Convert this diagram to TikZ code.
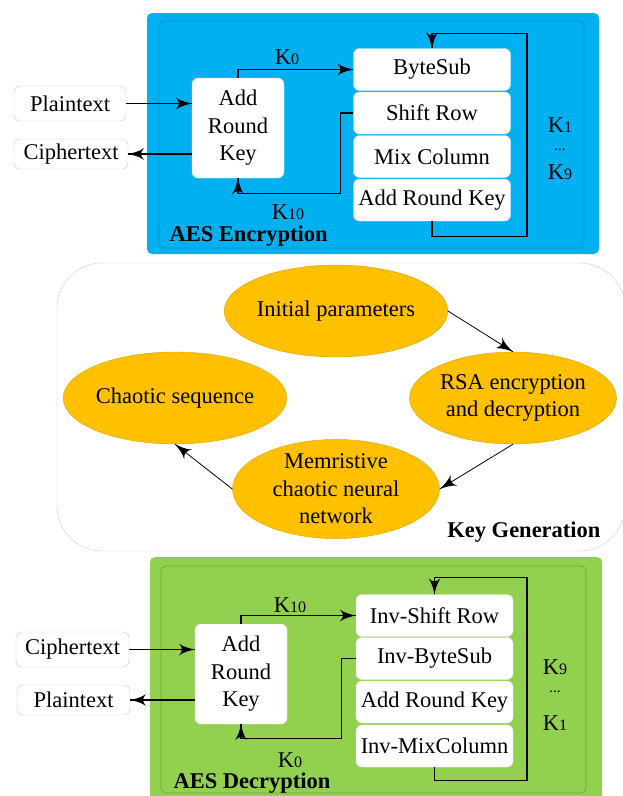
\documentclass[tikz,border=0pt]{standalone}
\usepackage{fontspec}
\setmainfont{Liberation Serif}
\usepackage{tikz}
\usetikzlibrary{arrows}
\usetikzlibrary{decorations.markings}
\usetikzlibrary{shapes.geometric}
\tikzset{conn/.style = {line width = 1.1pt, decoration={markings,
                                  mark=at position 1 with {\arrow[scale=2.6]{latex'}}},
                      postaction={decorate}}}
\tikzset{thinconn/.style = {line width = 0.8pt, decoration={markings,
                                  mark=at position 1 with {\arrow[scale=3.2]{latex'}}},
                      postaction={decorate}}}
\tikzset{txtbox/.style = {draw = boxgray, fill = white, rounded corners = 6, inner sep = 0}}
\tikzset{stepbox/.style = {draw = white!90!black, fill = white, rounded corners = 6,
                           inner sep = 0, minimum width = 157, minimum height = 42}}
\tikzset{keybox/.style = {fill = white, draw = white!90!black, rounded corners = 6, inner sep = 0,
                          align = center, minimum width = 92, minimum height = 100}}
\tikzset{keyell/.style = {ellipse, fill = korange, draw = korange!85!black, inner sep = 0,
                          minimum width = 207, minimum height = 92, align = center}}
\definecolor{ablue}{HTML}{00B0F0}
\definecolor{ablueline}{HTML}{1890C0}
\definecolor{agreen}{HTML}{92D050}
\definecolor{agreenline}{HTML}{6FA83C}
\definecolor{korange}{HTML}{FFC000}
\definecolor{boxgray}{HTML}{C8C8C8}
\newcommand{\kk}[1]{K{\fontsize{16}{16}\selectfont #1}}

\begin{document}
\begin{tikzpicture}[x = 1pt, y = 1pt, font = \fontsize{22.5}{27.5}\selectfont]
    \useasboundingbox (0, 0) rectangle (623, -796);

    % AES encryption
    \fill [ablue, rounded corners = 5] (147, -13) rectangle (599, -254);
    \draw [ablueline, rounded corners = 5, line width = 0.8pt] (159, -21) rectangle (584, -248);
    \node [txtbox, minimum width = 112, minimum height = 35] (plain1) at (70, -103.5) {Plaintext};
    \node [txtbox, minimum width = 114, minimum height = 30] (ciph1) at (71, -154) {Ciphertext};
    \node [keybox] (ark1) at (238, -128) {Add\\Round\\Key};
    \node [stepbox] (bs) at (432, -69.5) {ByteSub};
    \node [stepbox] (sr) at (432, -113) {Shift Row};
    \node [stepbox] (mc) at (432, -156.5) {Mix Column};
    \node [stepbox] (rk1) at (432, -200) {Add Round Key};
    \node (k0) at (287, -57) {\kk{0}};
    \node (k10) at (288, -212) {\kk{10}};
    \node (kone) at (560, -125) {\kk{1}};
    \node [font = \fontsize{15}{15}\selectfont] (kdots1) at (560, -150) {...};
    \node (knine) at (560, -172) {\kk{9}};
    \node [anchor = west, font = \fontsize{22.5}{22}\bfseries] (enc) at (166, -236) {AES Encryption};

    \draw [conn] (plain1.east) -- (plain1.east -| ark1.west);
    \draw [conn] (ark1.west |- ciph1.east) -- (ciph1.east);
    \draw [conn] (ark1.north) |- (bs.west);
    \draw [conn] (sr.west) -- ++(-13, 0) |- ([yshift = -15]ark1.south) -- (ark1.south);
    \draw [conn] (rk1.south) -- ++(0, -15) -- ++(95, 0) |- ([yshift = 15]bs.north) -- (bs.north);

    % key generation
    \draw [gray!40, fill = white, rounded corners = 45] (57, -263) rectangle (625, -551);
    \node [keyell] (init) at (336, -311) {Initial parameters};
    \node [keyell] (rsa) at (513, -398) {RSA encryption\\and decryption};
    \node [keyell] (chaos) at (175, -398) {Chaotic sequence};
    \node [keyell] (mem) at (336, -489) {Memristive\\chaotic neural\\network};
    \node [anchor = east, font = \fontsize{22.5}{22}\bfseries] (keygen) at (604, -532) {Key Generation};

    \draw [thinconn] (init.east) -- (rsa.north);
    \draw [thinconn] (rsa.south) -- (mem.east);
    \draw [thinconn] (mem.west) -- (chaos.south);

    % AES decryption
    \fill [agreen, rounded corners = 5] (150, -557) rectangle (602, -812);
    \draw [agreenline, rounded corners = 5, line width = 0.8pt] (161, -566) rectangle (586, -793);
    \node [txtbox, minimum width = 113, minimum height = 35] (ciph2) at (72.5, -649.5) {Ciphertext};
    \node [txtbox, minimum width = 113, minimum height = 30] (plain2) at (73.5, -700) {Plaintext};
    \node [keybox] (ark2) at (241, -674) {Add\\Round\\Key};
    \node [stepbox] (isr) at (434.5, -615.5) {Inv-Shift Row};
    \node [stepbox] (ibs) at (434.5, -658.5) {Inv-ByteSub};
    \node [stepbox] (rk2) at (434.5, -702) {Add Round Key};
    \node [stepbox] (imc) at (434.5, -746) {Inv-MixColumn};
    \node (k10b) at (290, -605) {\kk{10}};
    \node (k0b) at (290, -760) {\kk{0}};
    \node (kninb) at (555, -667) {\kk{9}};
    \node [font = \fontsize{15}{15}\selectfont] (kdots2) at (555, -692) {...};
    \node (koneb) at (555, -723) {\kk{1}};
    \node [anchor = west, font = \fontsize{22.5}{22}\bfseries] (dec) at (170, -783) {AES Decryption};

    \draw [conn] (ciph2.east) -- (ciph2.east -| ark2.west);
    \draw [conn] (ark2.west |- plain2.east) -- (plain2.east);
    \draw [conn] (ark2.north) |- (isr.west);
    \draw [conn] (ibs.west) -- ++(-14, 0) |- ([yshift = -14]ark2.south) -- (ark2.south);
    \draw [conn] (imc.south) -- ++(0, -13) -- ++(92.5, 0) |- ([yshift = 17]isr.north) -- (isr.north);
\end{tikzpicture}
\end{document}
